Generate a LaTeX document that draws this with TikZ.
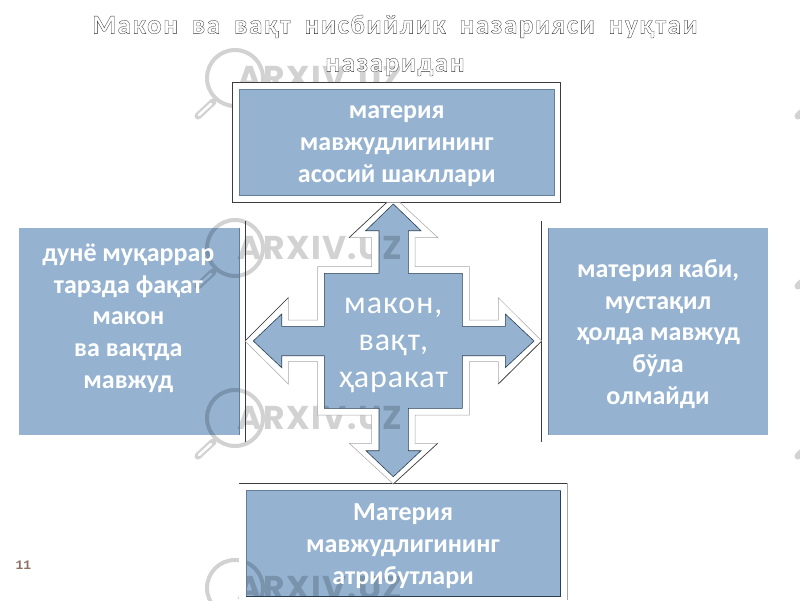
\documentclass[tikz,border=0pt]{standalone}
\usepackage{fontspec}
\setmainfont{Carlito}
\newfontfamily\titlefont[LetterSpace=6,WordSpace=1.8]{Carlito}
\newfontfamily\centerfont[LetterSpace=3]{Carlito}
\newfontfamily\wmfont[LetterSpace=4]{Poppins}
\newfontfamily\pagefont{Liberation Mono}
\definecolor{boxblue}{HTML}{95B3D1}
\definecolor{wmgrey}{HTML}{D2D2D2}
\definecolor{edgedark}{HTML}{2B3F52}
\definecolor{edgeslate}{HTML}{62809C}
\definecolor{framedark}{HTML}{3C3C3C}
\definecolor{framegrey}{HTML}{A6A6A6}
\definecolor{pagebrown}{HTML}{8B7265}
\newcommand{\hollow}[1]{\special{pdf:code q 2 Tr 0.3 w 0.2 0.2 0.2 RG}#1\special{pdf:code Q}}
\newcommand{\wmark}[1]{%
  \draw[wmgrey,line width=4pt] (235,#1) circle (28);
  \draw[wmgrey,line width=7pt,line cap=round] (213,#1+24) -- (198,#1+38);
  \draw[white,line width=2.5pt,line cap=round] (211,#1+26) -- (199,#1+37);
  \node[wmtext] at (320,#1) {ARXIV.UZ};
}
\newcommand{\wmhandle}[1]{%
  \draw[wmgrey,line width=7pt,line cap=round] (813,#1+24) -- (798,#1+38);
}
\tikzset{
  wmtext/.style={font=\wmfont\fontsize{33}{33}\selectfont\bfseries,text=wmgrey,inner sep=0pt},
  boxtext/.style={font=\fontsize{26}{31.7}\selectfont\bfseries,text=white,align=center,inner sep=0pt},
  centertext/.style={font=\centerfont\fontsize{32}{37}\selectfont,text=white,align=center,inner sep=0pt},
  titletext/.style={font=\titlefont\fontsize{27}{38}\selectfont\bfseries,text=white,align=center,inner sep=0pt},
  outerpath/.style={insert path={
    (386.7,202.5) -- (400,202.5) -- (438,237.7) -- (415,237.7) -- (415,266.7) -- (469.3,266.7) -- (469.3,320)
    -- (498.3,320) -- (498.3,297.7) -- (541.7,341) -- (498.3,384) -- (498.3,361.7) -- (469.3,361.7)
    -- (469.3,415) -- (415,415) -- (415,443.3) -- (437.7,443.3) -- (393.3,484) -- (349.3,443.3)
    -- (371.7,443.3) -- (371.7,415) -- (317.7,415) -- (317.7,361.7) -- (288.3,361.7) -- (288.3,384)
    -- (245,341) -- (288.3,297.7) -- (288.3,320) -- (317.7,320) -- (317.7,266.7) -- (371.7,266.7)
    -- (371.7,237.7) -- (349,237.7) -- cycle}},
  innerpath/.style={insert path={
    (393.3,204) -- (421,230.7) -- (408.3,230.7) -- (408.3,273.3) -- (462.3,273.3) -- (462.3,326.3)
    -- (505.3,326.3) -- (505.3,314) -- (534,341) -- (505.3,367.7) -- (505.3,355.7) -- (462.3,355.7)
    -- (462.3,408.3) -- (408.3,408.3) -- (408.3,450.7) -- (421,450.7) -- (393.3,476.7) -- (366,450.7)
    -- (379,450.7) -- (379,408.3) -- (324.3,408.3) -- (324.3,355.7) -- (281.7,355.7) -- (281.7,367.7)
    -- (253.3,341) -- (281.7,314) -- (281.7,326.3) -- (324.3,326.3) -- (324.3,273.3) -- (379,273.3)
    -- (379,230.7) -- (365.7,230.7) -- cycle}},
}
\begin{document}
\begin{tikzpicture}[x=1pt,y=-1pt]
\useasboundingbox (0,0) rectangle (800,600);
\clip (0,0) rectangle (800,600);
\fill[white] (0,0) rectangle (800,600);
% watermark
\wmark{78}\wmark{248}\wmark{418}\wmark{588}
\wmhandle{78}\wmhandle{248}\wmhandle{418}
% title
\node[titletext] (title) at (395,45.5) {\hollow{Макон ва вақт нисбийлик назарияси нуқтаи\\назаридан}};
% page number
\node[font=\pagefont\bfseries\fontsize{13}{13}\selectfont,text=pagebrown,inner sep=0pt] (pagenum) at (23.5,565) {11};
% top box (opaque)
\fill[white,draw=framedark,line width=0.9pt] (232.7,82.3) rectangle (560.7,202);
\fill[boxblue,draw=edgeslate,line width=0.6pt] (239,89) rectangle (554,195.7);
% side frame lines
\draw[framedark,line width=0.9pt] (245.3,221) -- (245.3,441.7);
\draw[framedark,line width=0.9pt] (541.3,221) -- (541.3,441.7);
% bottom box frame
\fill[white,even odd rule] (239,483.3) rectangle (567.3,603) (246,490) rectangle (560.7,596);
\draw[framedark,line width=0.9pt] (239,483.3) -- (567.3,483.3);
\draw[framegrey,line width=0.9pt] (567.3,483.3) -- (567.3,600);
% cross frame
\fill[white,even odd rule,outerpath,innerpath];
\draw[framegrey,line width=0.5pt,outerpath];
\draw[framedark,line width=0.6pt] (245,341) -- (288.3,297.7);
\draw[framedark,line width=0.6pt] (349,237.7) -- (386.7,202.5);
\draw[framedark,line width=0.6pt] (498.3,384) -- (541.7,341);
\draw[framedark,line width=0.6pt] (393.3,484) -- (437.7,443.3);
% blue fills over the watermark
\begin{scope}[blend mode=multiply]
\fill[boxblue,innerpath];
\fill[boxblue] (19,227.7) rectangle (239,434.7);
\fill[boxblue] (548,227.7) rectangle (768,434.7);
\fill[boxblue] (246,490) rectangle (560.7,596);
\end{scope}
\draw[edgedark,line width=0.6pt,innerpath];
\draw[edgeslate,line width=0.8pt] (239,227.7) -- (239,434.7);
\draw[edgeslate,line width=0.8pt] (548,227.7) -- (548,434.7);
\draw[edgedark,line width=0.6pt] (246,596) -- (560.7,596) -- (560.7,490);
\draw[edgeslate,line width=0.6pt] (246,596) -- (246,490) -- (560.7,490);
% texts
\node[boxtext] (top) at (396.7,146) {материя\\мавжудлигининг\\асосий шакллари};
\node[boxtext] (left) at (128.3,318) {дунё муқаррар\\тарзда фақат\\макон\\ва вақтда\\мавжуд};
\node[boxtext] (right) at (658,334) {материя каби,\\мустақил\\ҳолда мавжуд\\бўла\\олмайди};
\node[boxtext] (bottom) at (403,546) {Материя\\мавжудлигининг\\атрибутлари};
\node[centertext] (mid) at (393.3,345) {макон,\\вақт,\\ҳаракат};
\end{tikzpicture}
\end{document}
